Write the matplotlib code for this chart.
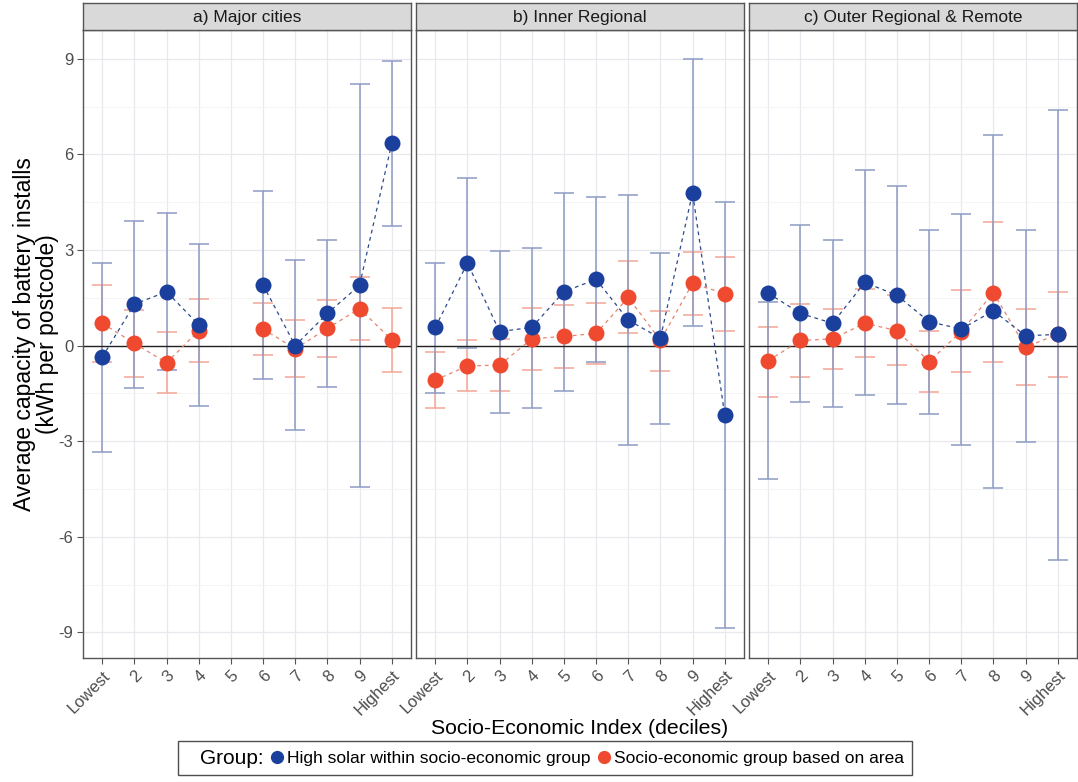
import numpy as np
import matplotlib
matplotlib.use("Agg")
from matplotlib import pyplot as plt
from matplotlib.lines import Line2D

plt.rcParams['font.family'] = ['Liberation Sans', 'DejaVu Sans']

nan = np.nan
deciles = ['Lowest', '2', '3', '4', '5', '6', '7', '8', '9', 'Highest']
panels = ['a) Major cities', 'b) Inner Regional', 'c) Outer Regional & Remote']

# high solar within socio-economic group: mean, lower and upper bounds
solar_a = [-0.36, 1.30, 1.69, 0.65, nan, 1.90, 0.00, 1.01, 1.89, 6.34]
solar_a_lo = [-3.33, -1.32, -0.78, -1.89, nan, -1.05, -2.65, -1.30, -4.44, 3.75]
solar_a_hi = [2.60, 3.90, 4.15, 3.18, nan, 4.84, 2.67, 3.30, 8.20, 8.93]
solar_b = [0.57, 2.59, 0.44, 0.57, 1.69, 2.08, 0.80, 0.23, 4.80, -2.18]
solar_b_lo = [-1.48, -0.06, -2.11, -1.95, -1.43, -0.50, -3.13, -2.47, 0.60, -8.85]
solar_b_hi = [2.60, 5.25, 2.97, 3.07, 4.80, 4.66, 4.72, 2.91, 8.99, 4.51]
solar_c = [1.64, 1.01, 0.70, 1.98, 1.58, 0.75, 0.52, 1.09, 0.31, 0.35]
solar_c_lo = [-4.20, -1.77, -1.94, -1.56, -1.84, -2.16, -3.11, -4.47, -3.03, -6.72]
solar_c_hi = [1.37, 3.77, 3.32, 5.50, 5.01, 3.64, 4.14, 6.62, 3.64, 7.40]

# socio-economic group based on area
area_a = [0.70, 0.07, -0.54, 0.47, nan, 0.52, -0.10, 0.54, 1.16, 0.18]
area_a_lo = [-0.50, -0.98, -1.50, -0.52, nan, -0.31, -1.00, -0.35, 0.16, -0.84]
area_a_hi = [1.89, 1.12, 0.44, 1.46, nan, 1.35, 0.80, 1.42, 2.16, 1.17]
area_b = [-1.08, -0.64, -0.61, 0.21, 0.29, 0.38, 1.51, 0.16, 1.95, 1.63]
area_b_lo = [-1.97, -1.44, -1.42, -0.78, -0.70, -0.58, 0.40, -0.79, 0.96, 0.47]
area_b_hi = [-0.20, 0.19, 0.21, 1.17, 1.27, 1.35, 2.65, 1.09, 2.94, 2.79]
area_c = [-0.47, 0.16, 0.21, 0.70, 0.47, -0.50, 0.44, 1.66, -0.05, 0.36]
area_c_lo = [-1.61, -0.99, -0.74, -0.35, -0.62, -1.46, -0.84, -0.53, -1.25, -0.97]
area_c_hi = [0.59, 1.30, 1.14, 1.77, 1.58, 0.46, 1.74, 3.88, 1.16, 1.68]

solar = [(solar_a, solar_a_lo, solar_a_hi), (solar_b, solar_b_lo, solar_b_hi),
         (solar_c, solar_c_lo, solar_c_hi)]
area = [(area_a, area_a_lo, area_a_hi), (area_b, area_b_lo, area_b_hi),
        (area_c, area_c_lo, area_c_hi)]

blue, red = '#1b3f9c', '#ef4a2f'
blue_bar, red_bar = '#8d9bc4', '#f3a595'
blue_line, red_line = '#2c4a8a', '#e58670'

W, H = 1078, 782
fig = plt.figure(figsize=(W / 100, H / 100), dpi=100)

x = np.arange(1, 11)
lefts = [83, 416, 749]
pw = 328
top, bottom = 30, 658

for i in range(3):
    ax = fig.add_axes([lefts[i] / W, 1 - bottom / H, pw / W, (bottom - top) / H])
    strip = fig.add_axes([lefts[i] / W, 1 - top / H, pw / W, 27 / H])
    strip.set_facecolor('#d9d9d9')
    strip.set_xticks([])
    strip.set_yticks([])
    for s in strip.spines.values():
        s.set_color('#555555')
        s.set_linewidth(1)
    strip.text(0.5, 0.47, panels[i], ha='center', va='center', fontsize=12.5,
               color='#1a1a1a', transform=strip.transAxes)

    # interval bars: drawn from their own bounds (not always centred on the mean)
    for (m, lo, hi), bc in [(area[i], red_bar), (solar[i], blue_bar)]:
        lo, hi = np.array(lo), np.array(hi)
        ax.errorbar(x, (lo + hi) / 2, yerr=(hi - lo) / 2, fmt='none', ecolor=bc,
                    elinewidth=1.1, capsize=7, capthick=1.1, zorder=2)
    for (m, lo, hi), lc, mc in [(area[i], red_line, red), (solar[i], blue_line, blue)]:
        ax.plot(x, m, ls=(0, (3, 3)), color=lc, lw=0.9, zorder=3)
        ax.plot(x, m, 'o', color=mc, ms=11.5, mec='none', zorder=4)

    ax.axhline(0, color='#222222', lw=1, zorder=2.5)
    ax.set_xlim(0.4, 10.6)
    ax.set_ylim(-9.8, 9.9)
    ax.set_yticks([-9, -6, -3, 0, 3, 6, 9])
    ax.set_yticks(np.arange(-7.5, 9, 3), minor=True)
    ax.set_xticks(x)
    ax.set_xticklabels(deciles, rotation=45, ha='right', rotation_mode='anchor',
                       fontsize=12, color='#4d4d4d')
    ax.grid(which='major', color='#e8e8ee', lw=0.9)
    ax.grid(which='minor', axis='y', color='#f2f2f2', lw=0.6)
    ax.set_axisbelow(True)
    ax.tick_params(which='major', length=4, color='#555555', pad=3)
    ax.tick_params(which='minor', length=0)
    if i == 0:
        ax.set_yticklabels(['-9', '-6', '-3', '0', '3', '6', '9'], fontsize=12,
                           color='#4d4d4d')
    else:
        ax.tick_params(axis='y', which='both', left=False, labelleft=False)
    for s in ax.spines.values():
        s.set_color('#555555')
        s.set_linewidth(1)

fig.text(36 / W, 1 - 334 / H, 'Average capacity of battery installs\n(kWh per postcode)',
         rotation=90, ha='center', va='center', fontsize=16.5, linespacing=0.98)
fig.text(580 / W, 1 - 729 / H, 'Socio-Economic Index (deciles)', ha='center',
         va='center', fontsize=15.3)

handles = [Line2D([], [], ls='none', marker=''),
           Line2D([], [], ls='none', marker='o', color=blue, ms=9.5, mec='none'),
           Line2D([], [], ls='none', marker='o', color=red, ms=9.5, mec='none')]
labels = ['Group:', 'High solar within socio-economic group',
          'Socio-economic group based on area']
leg = fig.legend(handles, labels, ncol=3, loc='center',
                 bbox_to_anchor=(545 / W, 1 - 758 / H), frameon=True,
                 fancybox=False, edgecolor='#222222', fontsize=12.5,
                 handlelength=0.5, handletextpad=0.35, columnspacing=0.5,
                 borderpad=0.42, borderaxespad=0)
leg.get_frame().set_linewidth(1)
leg.get_texts()[0].set_fontsize(15)

fig.savefig('out.png', dpi=100)
